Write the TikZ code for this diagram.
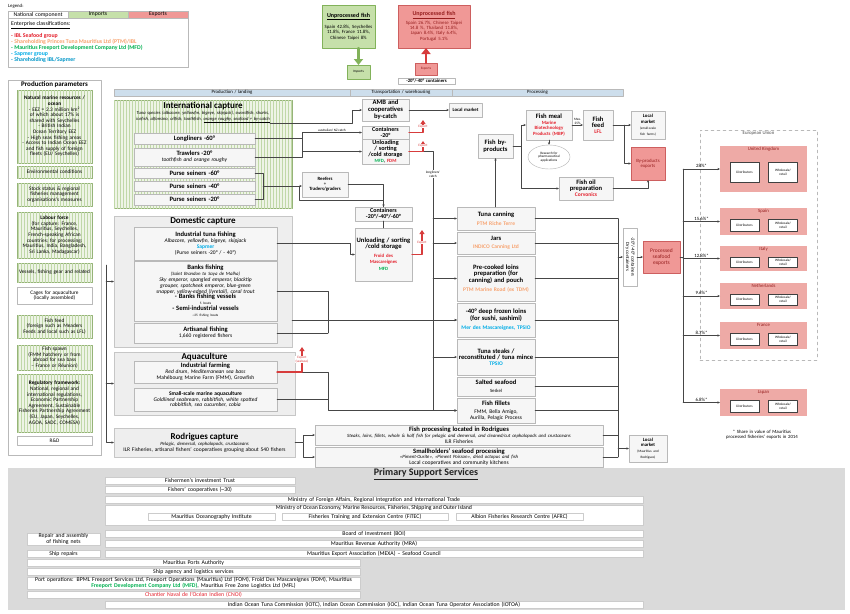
\documentclass[tikz,border=0pt]{standalone}
\usepackage{fontspec}
\setmainfont{Carlito}
\usetikzlibrary{positioning,arrows.meta,patterns,shadows,shapes.geometric}

\definecolor{iblred}{RGB}{228,32,44}
\definecolor{ptmorange}{RGB}{247,163,112}
\definecolor{mfdgreen}{RGB}{0,176,80}
\definecolor{sapcyan}{RGB}{0,172,230}
\definecolor{ibsapcyan}{RGB}{0,150,200}
\definecolor{impfill}{RGB}{198,224,170}
\definecolor{impdraw}{RGB}{130,178,90}
\definecolor{expfill}{RGB}{240,152,150}
\definecolor{expdraw}{RGB}{205,95,95}
\definecolor{exred}{RGB}{215,60,60}
\definecolor{darkred}{RGB}{150,30,30}
\definecolor{ctyfill}{RGB}{238,170,166}
\definecolor{hdrblue}{RGB}{205,222,236}
\definecolor{supgray}{RGB}{218,218,218}
\definecolor{stripebg}{RGB}{238,244,230}
\definecolor{stripeln}{RGB}{192,216,168}
\definecolor{stripedr}{RGB}{150,180,120}

\newcommand\fsXS{\fontsize{3.4}{3.8}\selectfont}
\newcommand\fsS{\fontsize{4.8}{5.2}\selectfont}
\newcommand\fsN{\fontsize{5.5}{5.9}\selectfont}
\newcommand\fsP{\fontsize{5.3}{5.6}\selectfont}
\newcommand\fsB{\fontsize{6.6}{6.9}\selectfont\bfseries}
\newcommand\fsH{\fontsize{9}{9.6}\selectfont\bfseries}
\hyphenpenalty=10000
\exhyphenpenalty=10000
\lineskip=.3pt

% box from corner (x1,y1) to corner (x2,y2), in pixels
\newcommand\boxat[7]{%
  \pgfmathsetmacro\bxw{#4-#2}\pgfmathsetmacro\bxh{#5-#3}%
  \pgfmathsetmacro\bxt{max(#4-#2-3,1)}%
  \node[#6, minimum width=\bxw pt, minimum height=\bxh pt, text width=\bxt pt]
    (#1) at ({(#2+#4)/2},{(#3+#5)/2}) {#7};}

\begin{document}
\begin{tikzpicture}[x=1pt, y=-1pt, >={Stealth[length=2.6pt,width=2.2pt]}, font=\fsN, line join=round, line cap=round,
  box/.style={draw=gray!55, fill=gray!7, inner sep=.5pt, outer sep=0pt, align=center, drop shadow={opacity=.3, shadow xshift=.7pt, shadow yshift=-.7pt}},
  grp/.style={box, fill=gray!13, draw=gray!45},
  stripe/.style={draw=stripedr, fill=stripebg, postaction={pattern=vertical lines, pattern color=stripeln}, inner sep=.5pt, outer sep=0pt, align=center},
  imp/.style={box, fill=impfill, draw=impdraw},
  exp/.style={box, fill=expfill, draw=expdraw, text=darkred},
  cty/.style={draw=none, fill=ctyfill, inner sep=0pt, outer sep=0pt},
  dist/.style={draw=black!75, line width=.6pt, fill=white, font=\fsXS, align=center, inner sep=0pt, outer sep=0pt, minimum width=29pt, text width=28pt},
  hdr/.style={draw=gray!55, fill=hdrblue, inner sep=0pt, outer sep=0pt, font=\fsS, align=center},
  cell/.style={draw=gray!55, inner sep=0pt, outer sep=0pt, font=\fontsize{5.8}{6}\selectfont, align=center},
  bar/.style={draw=gray!40, fill=white, inner sep=0pt, outer sep=0pt, font=\fontsize{5.8}{6}\selectfont, align=center},
  legtxt/.style={anchor=west, inner sep=0pt, font=\fontsize{5.8}{6}\selectfont\bfseries},
  ln/.style={draw=gray!55!black, line width=.45pt},
  exa/.style={draw=exred, line width=1.3pt, -{Triangle[length=4pt,width=5pt]}},
  exlab/.style={font=\fsXS, text=exred, fill=white, inner sep=.3pt, align=center},
  imparr/.style={draw=impdraw, line width=2.2pt, -{Triangle[length=6pt,width=9pt]}},
  exparr/.style={draw=exred, line width=2.2pt, -{Triangle[length=6pt,width=9pt]}}]
\useasboundingbox (0,0) rectangle (850,613);
\fill[white] (0,0) rectangle (850,613);

% legend
\node[anchor=west, inner sep=0pt, font=\fsS] (legt) at (8,6) {Legend:};
\boxat{leg}{8}{11}{188}{67}{box, fill=white}{}
\boxat{legn}{8}{11}{68}{18}{cell, fill=white}{National component}
\boxat{legi}{68}{11}{128}{18}{cell, fill=impfill}{Imports}
\boxat{lege}{128}{11}{188}{18}{cell, fill=expfill}{Exports}
\node[legtxt, font=\fontsize{5.8}{6}\selectfont] (le0) at (11,25) {\underline{Enterprise classifications:}};
\node[legtxt, text=iblred] (le1) at (11,36) {- IBL Seafood group};
\node[legtxt, text=ptmorange] (le2) at (11,42) {- Shareholding Princes Tuna Mauritius Ltd (PTM)/IBL};
\node[legtxt, text=mfdgreen] (le3) at (11,48) {- Mauritius Freeport Development Company Ltd (MFD)};
\node[legtxt, text=sapcyan] (le4) at (11,54) {- Sapmer group};
\node[legtxt, text=ibsapcyan] (le5) at (11,60) {- Shareholding IBL/Sapmer};

% production parameters
\boxat{pp}{8}{80}{101}{455}{box, fill=white}{}
\node[font=\fontsize{7}{7.4}\selectfont\bfseries, anchor=north, inner sep=0pt] (ppt) at ([yshift=-1pt]pp.north) {Production parameters};
\boxat{nat}{17}{90}{92}{163}{stripe, font=\fsP}{\textbf{Natural marine resources /\\ocean}\\- EEZ = 2.3 million km\textsuperscript{2} of which about 17\% is shared with Seychelles\\- British Indian Ocean Territory EEZ\\- High seas fishing areas\\- Access to Indian Ocean EEZ and fish supply of foreign fleets (EU/ Seychelles)}
\boxat{env}{17}{166}{92}{178}{stripe, font=\fsP}{Environmental conditions}
\boxat{stk}{17}{183}{92}{206}{stripe, font=\fsP}{Stock status \& regional fisheries management organisations's measures}
\boxat{lab}{17}{212}{92}{258}{stripe, font=\fsP}{\textbf{Labour force}\\(for capture: France, Mauritius, Seychelles, French-speaking African countries; for processing: Mauritius, India, Bangladesh, Sri Lanka, Madagascar)}
\boxat{ves}{17}{263}{92}{282}{stripe, font=\fsP}{Vessels, fishing gear and related}
\boxat{cag}{17}{287}{92}{304}{box, fill=white, font=\fsP}{Cages for aquaculture (locally assembled)}
\boxat{fed}{17}{315}{92}{338}{stripe, font=\fsP}{Fish feed\\(foreign such as Meaders Feeds and local such as LFL)}
\boxat{spn}{17}{345}{92}{370}{stripe, font=\fsP}{Fish spawn\\(FMM hatchery or from abroad for sea bass -- France or Réunion)}
\boxat{reg}{17}{374}{92}{432}{stripe, font=\fsP}{\textbf{Regulatory framework:} National, regional and international regulations, Economic Partnership Agreement, Sustainable Fisheries Partnership Agreement (EU, Japan, Seychelles, AGOA, SADC, COMESA)}
\boxat{rnd}{17}{436}{92}{445}{box, fill=white, font=\fsP}{R\&D}

% stage headers
\boxat{hpl}{114}{89}{350}{96}{hdr}{Production / landing}
\boxat{htw}{350}{89}{452}{96}{hdr}{Transportation / warehousing}
\boxat{hpr}{452}{89}{623}{96}{hdr}{Processing}

% international capture
\boxat{intl}{114}{100}{292}{208}{stripe}{}
\node[font=\fsH, anchor=north, inner sep=0pt] (intlt) at ([yshift=-2pt]intl.north) {International capture};
\node[font=\fontsize{4.6}{5.4}\selectfont\itshape, below=1pt of intlt, text width=172pt, align=center, inner sep=0pt] (intls) {Tuna species (albacore, yellowfin, bigeye, skipjack), swordfish, sharks, icefish, alfonsino, oilfish, toothfish, \underline{orange roughy, seafood + by-catch}};
\boxat{lng}{134}{133}{255}{144}{box, font=\fsB}{Longliners -60°}
\boxat{trw}{134}{148}{255}{166}{box}{{\fsB Trawlers -20°}\\\textit{toothfish and orange roughy}}
\boxat{ps60}{134}{168}{255}{178}{box, font=\fsB}{Purse seiners -60°}
\boxat{ps40}{134}{181}{255}{191}{box, font=\fsB}{Purse seiners -40°}
\boxat{ps20}{134}{194}{255}{205}{box, font=\fsB}{Purse seiners -20°}

% domestic capture
\boxat{dom}{114}{216}{292}{347}{grp}{}
\node[font=\fsH, anchor=north, inner sep=0pt] (domt) at ([yshift=-1pt]dom.north) {Domestic capture};
\boxat{itf}{134}{227}{277}{260}{box}{{\fsB Industrial tuna fishing}\\\textit{Albacore, yellowfin, bigeye, skipjack}\\\textbf{\textcolor{sapcyan}{Sapmer}}\\(Purse seiners -20° / - 40°)}
\boxat{bank}{134}{261}{277}{321}{box}{{\fsB Banks fishing}\\{\fsS\itshape (Saint Brandon to Saya de Malha)}\\\textit{Sky emperor, spangled emperor, blacktip grouper, spotcheek emperor, blue-green snapper, yellow-edged (lyretail), coral trout}\\{\fsB - Banks fishing vessels}\\{\fsXS 5 boats}\\{\fsB - Semi-industrial vessels}\\{\fsXS \textasciitilde25 fishing boats}}
\boxat{art}{134}{323}{277}{343}{box}{{\fsB Artisanal fishing}\\1,660 registered fishers}

% aquaculture
\boxat{aqu}{114}{352}{295}{415}{grp}{}
\node[font=\fsH, anchor=north, inner sep=0pt] (aqut) at ([yshift=-.5pt]aqu.north) {Aquaculture};
\boxat{ifarm}{134}{361}{277}{383}{box}{{\fsB Industrial farming}\\\textit{Red drum, Mediterranean sea bass}\\Mahébourg Marine Farm (FMM), Growfish}
\boxat{ssa}{134}{388}{277}{411}{box}{\textbf{Small-scale marine aquaculture}\\\textit{Goldlined seabream, rabbitfish, white spotted}\\\textit{rabbitfish, sea cucumber, cobia}}

% rodrigues
\boxat{rod}{114}{428}{295}{457}{grp}{{\fsH Rodrigues capture}\\{\fsS\itshape Pelagic, demersal, cephalopods, crustaceans}\\ILR Fisheries, artisanal fishers' cooperatives grouping about 540 fishers}
\boxat{rfp}{315}{425}{603}{445}{box}{{\fsB Fish processing located in Rodrigues}\\{\fsS\itshape Steaks, loins, fillets, whole \& half fish for pelagic and demersal, and cleaned/cut cephalopods and crustaceans}\\ILR Fisheries}
\boxat{shp}{315}{447}{603}{467}{box}{{\fsB Smallholders' seafood processing}\\{\fsS\itshape «Piment-Ourite», «Piment Poisson», dried octopus and fish}\\Local cooperatives and community kitchens}
\boxat{lm2}{629}{435}{667}{462}{box}{{\fsS\bfseries Local\\market}\\{\fsXS (Mauritius and Rodrigues)}}

% imports / exports of unprocessed fish
\boxat{impb}{322}{5}{375}{48}{imp}{{\fontsize{6}{6.4}\selectfont\bfseries\underline{Unprocessed fish}}\\[4pt]{\fsS Spain 42.8\%, Seychelles\\11.8\%, France 11.8\%,\\Chinese Taipei 8\%}}
\boxat{imps}{347}{65}{370}{79}{imp, font=\fsXS}{Imports}
\boxat{expb}{398}{5}{470}{48}{exp}{{\fontsize{6}{6.4}\selectfont\bfseries\underline{Unprocessed fish}}\\[1pt]{\fsS Spain 26.7\%, Chinese Taipei\\14.8 \%, Thailand 11.8\%,\\Japan 8.4\%, Italy 6.4\%,\\Portugal 5.1\%}}
\boxat{exps}{415}{63}{437}{75}{exp, font=\fsXS}{Exports}
\boxat{cnt}{398}{78}{455}{84}{box, fill=white, font=\fsS\bfseries}{-20°/-40° containers}
\draw[imparr] (imps.north |- impb.south) -- (imps.north);
\draw[exparr] (exps.north) -- (exps.north |- expb.south);

% transportation / warehousing
\boxat{amb}{362}{99}{409}{121}{box, font=\fsB}{AMB and cooperatives by-catch}
\boxat{lm1}{449}{103}{482}{117}{box, font=\fsS\bfseries}{Local market}
\boxat{c20}{362}{126}{409}{139}{box, font=\fontsize{6}{6}\selectfont\bfseries}{Containers\\-20°}
\boxat{unl1}{362}{139}{409}{164}{box}{{\fontsize{6.2}{6.4}\selectfont\bfseries Unloading / sorting /cold storage}\\{\fsS\bfseries\textcolor{mfdgreen}{MFD}, \textcolor{iblred}{FDM}}}
\boxat{rt}{302}{172}{348}{197}{box, font=\fsS}{\textbf{Reefers}\\+\\\textbf{Traders/graders}}
\boxat{c2}{355}{207}{412}{221}{box, font=\fontsize{6}{6}\selectfont\bfseries}{Containers\\-20°/-40°/-60°}
\boxat{unl2}{355}{228}{412}{281}{box}{{\fsB Unloading / sorting /cold storage}\\[4pt]{\fsS\bfseries\textcolor{iblred}{Froid des\\Mascareignes}}\\[1pt]{\fsS\bfseries\textcolor{mfdgreen}{MFD}}}

% processing
\boxat{tc}{457}{207}{535}{230}{box}{{\fsB Tuna canning}\\[3pt]\textbf{\textcolor{ptmorange}{PTM Riche Terre}}}
\boxat{jar}{457}{232}{535}{254}{box}{{\fsB Jars}\\[2pt]\textbf{\textcolor{ptmorange}{INDICO Canning Ltd}}}
\boxat{pcl}{457}{256}{535}{301}{box}{{\fsB Pre-cooked loins preparation (for canning) and pouch}\\[3pt]\textbf{\textcolor{ptmorange}{PTM Marine Road (ex TDM)}}}
\boxat{dfl}{457}{303}{535}{337}{box}{{\fsB -40° deep frozen loins (for sushi, sashimi)}\\[3pt]\textbf{\textcolor{sapcyan}{Mer des Mascareignes, TPSIO}}}
\boxat{tst}{457}{339}{535}{375}{box}{{\fsB Tuna steaks / reconstituted / tuna mince}\\\textbf{\textcolor{sapcyan}{TPSIO}}}
\boxat{sal}{457}{377}{535}{396}{box}{{\fsB Salted seafood}\\[2pt]{\fsS Seskel}}
\boxat{fil}{457}{398}{535}{423}{box}{{\fsB Fish fillets}\\[2pt]FMM, Bella Amigo, Aurilla, Pelagic Process}

% by-products
\boxat{fbp}{478}{134}{513}{158}{box, font=\fsB}{Fish by-\\products}
\boxat{fm}{526}{110}{572}{140}{box}{{\fsB Fish meal}\\{\fsS\bfseries\textcolor{iblred}{Marine Biotechnology Products (MBP)}}}
\node[ellipse, draw=gray!60, fill=white, font=\fsXS, align=center, minimum width=42pt, minimum height=24pt, inner sep=0pt] (res) at (549,157) {Research for\\pharmaceutical\\applications};
\boxat{ff}{583}{110}{613}{140}{box}{{\fsB Fish\\feed}\\\textbf{\textcolor{iblred}{LFL}}}
\boxat{lm3}{631}{111}{665}{139}{box}{{\fsS\bfseries Local\\market}\\{\fsXS (small-scale fish farms)}}
\boxat{bpe}{631}{147}{665}{180}{exp, font=\fsS}{By-products exports}
\boxat{fo}{559}{177}{613}{200}{box}{{\fsB Fish oil preparation}\\\textbf{\textcolor{iblred}{Corvonics}}}

% processed exports
\node[box, fill=white, rotate=-90, minimum width=58pt, minimum height=14pt, font=\fsS, inner sep=0pt] (dry) at (630,257) {-20°/-40° containers\\Dry containers};
\boxat{pse}{643}{241}{680}{273}{exp}{Processed seafood exports}
\boxat{eu}{700}{130}{817}{360}{draw=gray!55, dashed, inner sep=0pt, outer sep=0pt}{}
\node[font=\fsS, text=gray!60!black, below=1pt of eu.north, inner sep=0pt] (eut) {European Union};
\coordinate (evt) at (683,257);
\foreach \nm/\ya/\yb/\pc/\lab in {uk/146/192/28\%*/United Kingdom, sp/208/235/15.6\%*/Spain, it/246/271/12.8\%*/Italy, nl/283/309/9.6\%*/Netherlands, fr/322/349/8.7\%*/France, jp/389/416/6.8\%*/Japan}{
  \boxat{\nm}{720}{\ya}{807}{\yb}{cty}{}
  \node[font=\fsS, text=darkred, anchor=north, inner sep=1pt] (\nm t) at (\nm.north) {\lab};
  \pgfmathsetmacro\innery{(\ya+\yb)/2+3.5}
  \pgfmathsetmacro\innerh{min(\yb-\ya-15,20)}
  \node[dist, minimum height=\innerh pt] (\nm d) at (744.5,\innery) {Distributors};
  \node[dist, minimum height=\innerh pt] (\nm w) at (783,\innery) {Wholesale/\\retail};
  \draw[->, ln] (\nm.west -| evt) -- node[above, font=\fsS, inner sep=1pt] (\nm p) {\pc} (\nm.west);
}
\draw[ln] (uk.west -| evt) -- (jp.west -| evt);
\draw[ln] (pse.east) -- (pse.east -| evt);
\node[font=\fsS, text width=125pt, align=center, inner sep=0pt] (note) at (762,435) {* Share in value of Mauritius processed fisheries' exports in 2014};

% connectors: capture to landing
\coordinate (bcs) at (270,123);
\draw[->, ln] (bcs) -- ++(82,0) |- (amb.west);
\draw[->, ln] (amb.east) -- (lm1.west);
\draw[->, ln] (lng.east) -- (lng.east -| rt.west) |- (unl1.west);
\draw[->, ln] (trw.east) -- (trw.east -| rt.west) |- node[above, pos=.75, font=\fsXS, inner sep=.5pt] (anz) {australian/ NZ catch} (c20.west);
\draw[ln] (ps60.east) -- ++(8,0) |- (ps20.east);
\draw[->, ln] ([xshift=8pt]ps40.east) -- (rt.west |- ps40.east);
\coordinate (byp) at (299,200);
\draw[ln] (byp |- ps40.east) -- (byp) -| (c2.north);
\draw[->, ln] (rt.east) -| (c2.north);
\draw[ln] (c2.south) -- (unl2.north);
\draw[->, ln] (itf.east) -- ([xshift=-5pt]unl2.west |- itf.east) |- (unl2.west);

% connectors: landing to processing
\coordinate (lv) at (433,151);
\draw[ln] (unl1.east) -- (unl1.east -| lv) -- (lv |- fil.west);
\node[font=\fsXS, fill=white, align=center, inner sep=.5pt] (llc) at (433,174) {longliners'\\catch};
\foreach \b in {tc,jar,pcl,dfl,tst,fil}
  \draw[->, ln] (lv |- \b.west) -- (\b.west);
\coordinate (jn) at (328,333);
\draw[ln] (bank.east) -| (jn);
\draw[ln] (art.east) -- (art.east -| jn);
\draw[->, ln] (dom.east |- dfl.west) -- (dfl.west);
\draw[->, ln] (ifarm.east) -| (fil.west -| jn) -- (fil.west);
\draw[ln] (ssa.east) -- (ssa.east -| jn);
\coordinate (rj) at (303,443);
\draw[ln] (rod.east) -- (rod.east -| rj);
\draw[->, ln] (rod.east -| rj) |- (rfp.west);
\draw[->, ln] (rod.east -| rj) |- (shp.west);
\coordinate (pb) at (106,265);
\draw[->, ln] (pb) |- (rod.west);
\draw[->, ln] (pb |- dom.west) -- (dom.west);
\draw[->, ln] (pb |- aqu.west) -- (aqu.west);

% export arrows
\coordinate (ex1) at (423,120);
\coordinate (ex2) at (423,141);
\coordinate (ex3) at (422,230);
\coordinate (ex4) at (302,347);
\draw[exa] (c20.east) -| (ex1) node[exlab, pos=.75] (exl1) {Export};
\draw[exa] (unl1.east) -| (ex2) node[exlab, pos=.8] (exl2) {Export};
\draw[exa] (unl2.east) -| (ex3) node[exlab, pos=.75] (exl3) {Export};
\draw[exa] (ifarm.east) -| (ex4) node[exlab, pos=.75] (exl4) {Export\\(seabass)};

% by-products
\draw[->, ln] (fbp.south |- tc.north) -- (fbp.south);
\coordinate (bj) at (521,146);
\draw[ln] (fbp.east) -- (fbp.east -| bj);
\draw[->, ln] (fbp.east -| bj) |- (fm.west);
\draw[->, ln] (fbp.east -| bj) |- (fo.west);
\draw[->, ln] (fm.south) -- (res.north);
\draw[->, ln] (fm.east) -- node[above, font=\fsXS, align=center, inner sep=.5pt] (max) {Max.\\25\%} (ff.west);
\coordinate (fj) at (624,125);
\draw[ln] (ff.east) -- (ff.east -| fj);
\draw[->, ln] (ff.east -| fj) |- (lm3.west);
\draw[->, ln] (ff.east -| fj) |- (bpe.west);
\draw[->, ln] (fo.east) -| (bpe.south);

% processing to markets
\coordinate (pv) at (618,219);
\foreach \b in {tc,jar,pcl,dfl,tst,sal,fil,rfp,shp}
  \draw[ln] (\b.east) -- (\b.east -| pv);
\draw[ln] (pv |- tc.east) -- (pv |- shp.east);
\draw[->, ln] (pv |- dry.center) -- (dry.south);
\draw[->, ln] (dry.north) -- (pse.west);
\draw[->, ln] (pv |- lm2.west) -- (lm2.west);

% primary support services
\boxat{sup}{8}{468}{845}{610}{fill=supgray, draw=none, inner sep=0pt, outer sep=0pt}{}
\node[font=\fontsize{10}{11}\selectfont\bfseries, text=gray!25!black, inner sep=0pt] (supt) at (426,474) {\underline{Primary Support Services}};
\boxat{b1}{105}{477}{295}{484}{bar}{Fishermen's investment Trust}
\boxat{b2}{105}{486}{295}{493}{bar}{Fishers' cooperatives (\textasciitilde30)}
\boxat{b3}{105}{496}{643}{503}{bar}{Ministry of Foreign Affairs, Regional Integration and International Trade}
\boxat{b4}{105}{505}{643}{525}{bar}{}
\node[font=\fontsize{5.8}{6}\selectfont, anchor=north, inner sep=.5pt] (b4t) at (b4.north) {Ministry of Ocean Economy, Marine Resources, Fisheries, Shipping and Outer Island};
\boxat{b4a}{148}{513}{275}{520}{bar}{Mauritius Oceanography Institute}
\boxat{b4b}{282}{513}{448}{520}{bar}{Fisheries Training and Extension Centre (FiTEC)}
\boxat{b4c}{456}{513}{583}{520}{bar}{Albion Fisheries Research Centre (AFRC)}
\boxat{b5}{105}{530}{643}{537}{bar}{Board of Investment (BOI)}
\boxat{b6}{105}{540}{643}{547}{bar}{Mauritius Revenue Authority (MRA)}
\boxat{b7}{105}{550}{643}{557}{bar}{Mauritius Export Association (MEXA) -- Seafood Council}
\boxat{b8}{27}{533}{100}{545}{bar}{Repair and assembly of fishing nets}
\boxat{b9}{27}{550}{100}{557}{bar}{Ship repairs}
\boxat{b10}{27}{559}{360}{566}{bar}{Mauritius Ports Authority}
\boxat{b11}{27}{568}{360}{575}{bar}{Ship agency and logistics services}
\boxat{b12}{27}{577}{360}{589}{bar}{Port operations: BPML Freeport Services Ltd, Freeport Operations (Mauritius) Ltd (FOM), Froid Des Mascareignes (FDM), Mauritius\\\textbf{\textcolor{mfdgreen}{Freeport Development Company Ltd (MFD)}}, Mauritius Free Zone Logistics Ltd (MFL)}
\boxat{b13}{27}{591}{360}{598}{bar}{\textcolor{iblred}{Chantier Naval de l'Océan Indien (CNOI)}}
\boxat{b14}{105}{601}{643}{608}{bar}{Indian Ocean Tuna Commission (IOTC), Indian Ocean Commission (IOC), Indian Ocean Tuna Operator Association (IOTOA)}
\end{tikzpicture}
\end{document}
